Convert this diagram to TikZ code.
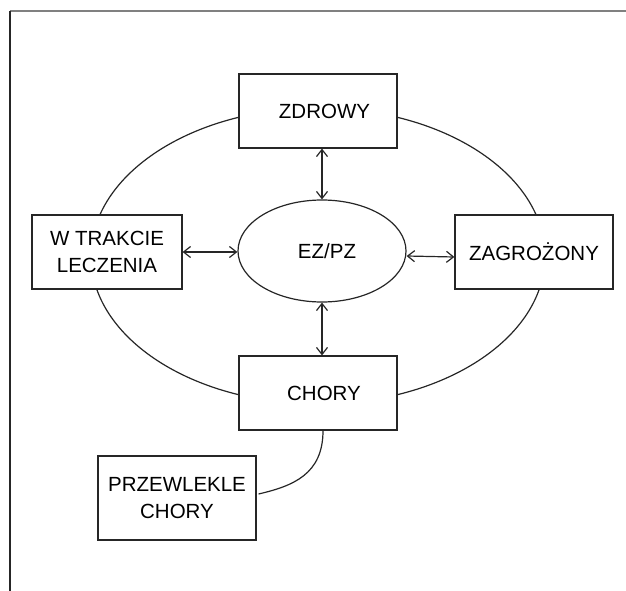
\documentclass[tikz,border=0pt]{standalone}
\usepackage{fontspec}
\setmainfont{Liberation Sans}
\usetikzlibrary{arrows.meta,shapes.geometric}
\begin{document}
\begin{tikzpicture}[x=1pt,y=-1pt,
  line width=1.2pt,
  statebox/.style={draw=black!85,fill=white,rectangle,inner sep=0pt,
    minimum width=158pt,minimum height=74pt,align=center,
    font=\fontsize{20.5}{27}\selectfont},
  link/.style={draw=black!85,{Straight Barb[length=7pt,width=11pt]}-{Straight Barb[length=7pt,width=11pt]}}]
\useasboundingbox (0,0) rectangle (626,591);
% page frame
\draw[black!50,line width=1.6pt] (10,11) -- (626,11);
\draw[black!85,line width=1.5pt] (10,11) -- (10,591);
% outer cycle
\draw[black!85] (318,256) ellipse [x radius=227pt, y radius=148pt];
% states
\node[statebox] (zd) at (318,111) {\hspace*{13pt}ZDROWY};
\node[statebox,minimum width=150pt] (wt) at (107,252) {W TRAKCIE\\LECZENIA};
\node[statebox] (zg) at (534,252) {ZAGROŻONY};
\node[statebox] (ch) at (318,393) {\hspace*{12pt}CHORY};
\node[statebox,minimum height=84pt] (pc) at (177,498) {PRZEWLEKLE\\CHORY};
\node[draw=black!85,fill=white,ellipse,inner sep=0pt,minimum width=168pt,minimum height=102pt,
  font=\fontsize{20.5}{27}\selectfont] (ez) at (322,251) {\hspace*{10pt}EZ/PZ};
% transitions
\draw[link] (zd.south -| ez.north) -- (ez.north);
\draw[link] (ez.south) -- (ch.north -| ez.south);
\draw[link] (wt.east) -- (wt.east -| ez.west);
\draw[link] ([yshift=-5pt]ez.east) -- ([yshift=-5pt]zg.west);
% chronic branch
\draw[black!85] ([xshift=5pt]ch.south) .. controls +(0,44) and +(34,-8) .. ([xshift=2pt,yshift=4pt]pc.east);
\end{tikzpicture}
\end{document}
